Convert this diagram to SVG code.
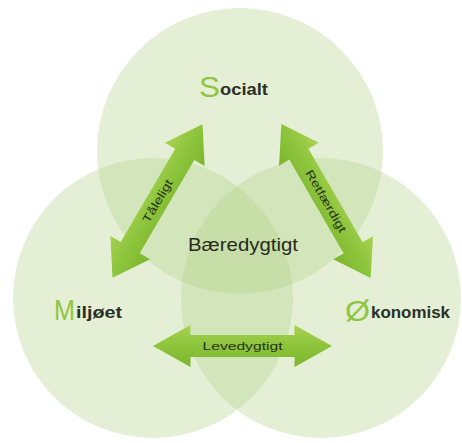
<svg xmlns="http://www.w3.org/2000/svg" width="462" height="443" viewBox="0 0 462 443">
<defs>
<style>
.circ{fill:#b3d38a;fill-opacity:0.36}
.big{font-family:"Liberation Sans",Arial,sans-serif;fill:#8fc640;font-size:30px}
.lbl{font-family:"Liberation Sans",Arial,sans-serif;fill:#2b2f25;font-size:16px;font-weight:bold}
.center{font-family:"Liberation Sans",Arial,sans-serif;fill:#262a20;font-size:19px}
.arr{fill:url(#ag)}
.atext{font-family:"Liberation Sans",Arial,sans-serif;fill:#2a3318;font-size:11.5px;text-anchor:middle}
</style>
<linearGradient id="ag" x1="0" y1="0" x2="0" y2="1">
<stop offset="0" stop-color="#a8d250"/>
<stop offset="0.5" stop-color="#8cc43c"/>
<stop offset="1" stop-color="#7db52e"/>
</linearGradient>
<path id="dbl" d="M-89,0 L-54,-23 L-54,-11 L54,-11 L54,-23 L89,0 L54,23 L54,11 L-54,11 L-54,23 Z"/>
</defs>
<rect width="462" height="443" fill="#ffffff"/>
<g id="social">
<circle class="circ" cx="240" cy="151" r="143"/>
<text x="199" y="97" class="big" textLength="21" lengthAdjust="spacingAndGlyphs">S</text>
<text x="220" y="95" class="lbl" textLength="48" lengthAdjust="spacingAndGlyphs">ocialt</text>
</g>
<g id="miljo">
<circle class="circ" cx="153" cy="298" r="140"/>
<text x="54" y="320" class="big" font-size="32" textLength="21" lengthAdjust="spacingAndGlyphs">M</text>
<text x="76" y="318" class="lbl" textLength="46" lengthAdjust="spacingAndGlyphs">iljøet</text>
</g>
<g id="okonomi">
<circle class="circ" cx="321" cy="298" r="140"/>
<text x="345" y="321" class="big" font-size="32" textLength="25" lengthAdjust="spacingAndGlyphs">Ø</text>
<text x="371" y="318" class="lbl" textLength="79" lengthAdjust="spacingAndGlyphs">konomisk</text>
</g>
<g id="baeredygtigt">
<text x="188" y="251" class="center" textLength="110" lengthAdjust="spacingAndGlyphs">Bæredygtigt</text>
</g>
<g id="connectors">
<g transform="translate(157.5,201) rotate(-59.65)">
<use href="#dbl" class="arr"/>
<text x="0" y="4" class="atext" textLength="48" lengthAdjust="spacingAndGlyphs">Tåleligt</text>
</g>
<g transform="translate(326,201) rotate(59.9)">
<use href="#dbl" class="arr"/>
<text x="0" y="4" class="atext" textLength="70" lengthAdjust="spacingAndGlyphs">Retfærdigt</text>
</g>
<g transform="translate(242.5,346)">
<path class="arr" d="M-89.5,0 L-52,-21 L-52,-11 L52,-11 L52,-21 L89.5,0 L52,21 L52,11 L-52,11 L-52,21 Z"/>
<text x="0" y="4" class="atext" font-size="12.5" textLength="80" lengthAdjust="spacingAndGlyphs">Levedygtigt</text>
</g>
</g>
</svg>
